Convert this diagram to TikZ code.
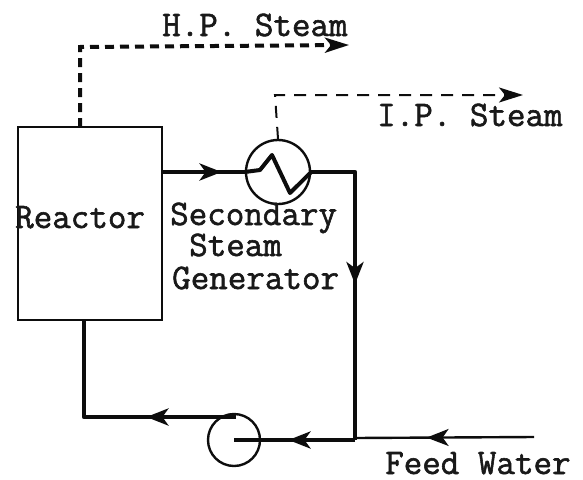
\documentclass[tikz,border=0pt]{standalone}
\usepackage{fontspec}
\setmainfont{Latin Modern Mono}[FakeBold=1.6]
\usetikzlibrary{arrows.meta,decorations.markings}
\begin{document}
\begin{tikzpicture}[x=1pt,y=-1pt,
  lab/.style={inner sep=0pt,anchor=base west,font=\fontsize{36}{40}\selectfont,text=black!90},
  thick line/.style={line width=4.6pt,draw=black!95,line join=round},
  thin line/.style={line width=2.4pt,draw=black!95},
  dash line/.style={line width=4pt,dash pattern=on 9pt off 6pt,draw=black!95},
  thin dash/.style={line width=2pt,dash pattern=on 12pt off 9pt,draw=black!95},
  bighead/.style={-{Stealth[length=24pt,width=15pt,inset=6pt]}},
  midarrow/.style={postaction={decorate,decoration={markings,
    mark=at position #1 with {\arrow{Stealth[length=22pt,width=17pt,inset=6pt]}}}}}]
\useasboundingbox (0,0) rectangle (583,479);
\node[draw=black!95,line width=2.4pt,minimum width=144pt,minimum height=193pt,inner sep=0pt] (reactor) at (90,223.5) {};
\node[circle,draw=black!95,line width=2.4pt,minimum size=64pt,inner sep=0pt] (hx) at (278,172) {};
\node[circle,draw=black!95,line width=2.4pt,minimum size=52pt,inner sep=0pt] (pump) at (234,440) {};
\coordinate (a1) at (80,127);
\coordinate (a2) at (80,47);
\coordinate (a3) at (349,45);
\coordinate (b1) at (275,95);
\coordinate (b2) at (523,95);
\coordinate (r1) at (162,172);
\coordinate (c1) at (355,172);
\coordinate (c2) at (355,440);
\coordinate (d1) at (84,320);
\coordinate (d2) at (84,417);
\coordinate (d3) at (236,417);
\coordinate (f1) at (534,437);
\coordinate (f2) at (355,438);
\draw[dash line,bighead] (a1) -- (a2) -- (a3);
\draw[thin dash,bighead] (hx.north) -- (b1) -- (b2);
\draw[thick line,midarrow=0.72] (r1) -- (hx.west);
\draw[thick line,midarrow=0.5] (hx.east) -- (c1) -- (c2);
\draw[thick line,midarrow=0.55] (c2) -- (pump.center);
\draw[thick line,midarrow=0.36] (d3) -- (d2) -- (d1);
\draw[thin line,midarrow=0.6] (f1) -- (f2);
\draw[line width=4pt,draw=black!95,line join=round] (hx.west) -- (260,170) -- (272,155) -- (290,193) -- (hx.east);
\node[lab] (hp) at (162,36) {H.P. Steam};
\node[lab] (ip) at (377,126) {I.P. Steam};
\node[lab] (rl) at (15,228) {Reactor};
\node[lab] (s1) at (170,225) {Secondary};
\node[lab] (s2) at (189,256) {Steam};
\node[lab] (s3) at (172,289) {Generator};
\node[lab] (fw) at (385,474) {Feed Water};
\end{tikzpicture}
\end{document}
